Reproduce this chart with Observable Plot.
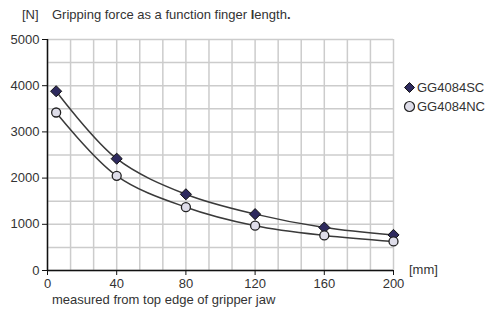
<!DOCTYPE html>
<html>
<head>
<meta charset="utf-8">
<script src="https://cdn.jsdelivr.net/npm/d3@7"></script>
<script src="https://cdn.jsdelivr.net/npm/@observablehq/plot@0.6"></script>
<style>
  html, body { margin: 0; padding: 0; background: #fff; }
  #wrap { position: relative; width: 492px; height: 313px; font-family: "Liberation Sans", Arial, sans-serif; color: #333; }
  .lbl { position: absolute; font-size: 13px; white-space: nowrap; line-height: 1; }
  #chart svg { display: block; }
</style>
</head>
<body>
<div id="wrap">
  <div id="chart"></div>
  <div class="lbl" style="left:22px; top:8px;">[N]</div>
  <div class="lbl" style="left:52px; top:8px;">Gripping force as a function finger <b>l</b>ength<b>.</b></div>
  <div class="lbl" style="left:52px; top:293px;">measured from top edge of gripper jaw</div>
  <div class="lbl" style="left:409px; top:263px;">[mm]</div>
  <div id="legend"></div>
</div>
<script>
const lengths = [5, 40, 80, 120, 160, 200];
const seriesNames = ["GG4084SC", "GG4084NC"];
const forceSC = [3880, 2420, 1650, 1220, 930, 770];
const forceNC = [3420, 2050, 1370, 970, 760, 630];
const xTicks = [0, 40, 80, 120, 160, 200];
const yTicks = [0, 1000, 2000, 3000, 4000, 5000];

const xGrid = d3.range(0, 15.5).map(i => i * 200 / 15);
const yGrid = d3.range(0, 10.5).map(i => i * 500);

const dataSC = lengths.map((x, i) => ({x, y: forceSC[i]}));
const dataNC = lengths.map((x, i) => ({x, y: forceNC[i]}));

const colors = { SC: "#2e2a5e", NC: "#dedde9" };

const chart = Plot.plot({
  width: 492,
  height: 313,
  marginLeft: 47,
  marginRight: 99,
  marginTop: 39,
  marginBottom: 43,
  style: { fontFamily: "Liberation Sans, Arial, sans-serif", fontSize: "13px", color: "#333", background: "#fff" },
  x: { domain: [0, 200], label: null },
  y: { domain: [0, 5000], label: null },
  marks: [
    Plot.ruleX(xGrid, { stroke: "#cccccc", strokeWidth: 1.5 }),
    Plot.ruleY(yGrid, { stroke: "#cccccc", strokeWidth: 1.5 }),
    Plot.ruleX([0], { stroke: "#111", strokeWidth: 1.5 }),
    Plot.ruleY([0], { stroke: "#111", strokeWidth: 1.5 }),
    Plot.axisX({ ticks: xTicks, tickSize: 5, tickPadding: 3, stroke: "#111", fill: "#333", tickFormat: d => String(d) }),
    Plot.axisY({ ticks: yTicks, tickSize: 5, tickPadding: 3, stroke: "#111", fill: "#333", tickFormat: d => String(d) }),
    Plot.line(dataSC, { x: "x", y: "y", curve: "catmull-rom", stroke: "#3a3a3a", strokeWidth: 1.5 }),
    Plot.line(dataNC, { x: "x", y: "y", curve: "catmull-rom", stroke: "#3a3a3a", strokeWidth: 1.5 }),
    Plot.dot(dataSC, { x: "x", y: "y", symbol: "diamond2", r: 5, fill: colors.SC, stroke: "#111", strokeWidth: 1 }),
    Plot.dot(dataNC, { x: "x", y: "y", symbol: "circle", r: 4.5, fill: colors.NC, stroke: "#222", strokeWidth: 1.3 })
  ]
});
document.getElementById("chart").appendChild(chart);

// legend
const legend = document.getElementById("legend");
const items = [
  { name: seriesNames[0], sym: "diamond", fill: colors.SC, top: 81 },
  { name: seriesNames[1], sym: "circle", fill: colors.NC, top: 100 }
];
items.forEach(it => {
  const div = document.createElement("div");
  div.className = "lbl";
  div.style.left = "403px";
  div.style.top = it.top + "px";
  div.style.display = "flex";
  div.style.alignItems = "center";
  const s = d3.create("svg").attr("width", 13).attr("height", 13).style("margin-right", "1px");
  if (it.sym === "diamond") {
    s.append("path").attr("d", "M6.5,1.5L11.5,6.5L6.5,11.5L1.5,6.5Z").attr("fill", it.fill).attr("stroke", "#111");
  } else {
    s.append("circle").attr("cx", 6.5).attr("cy", 6.5).attr("r", 5).attr("fill", it.fill).attr("stroke", "#222").attr("stroke-width", 1.2);
  }
  div.appendChild(s.node());
  const t = document.createElement("span");
  t.textContent = it.name;
  div.appendChild(t);
  legend.appendChild(div);
});
</script>
</body>
</html>
